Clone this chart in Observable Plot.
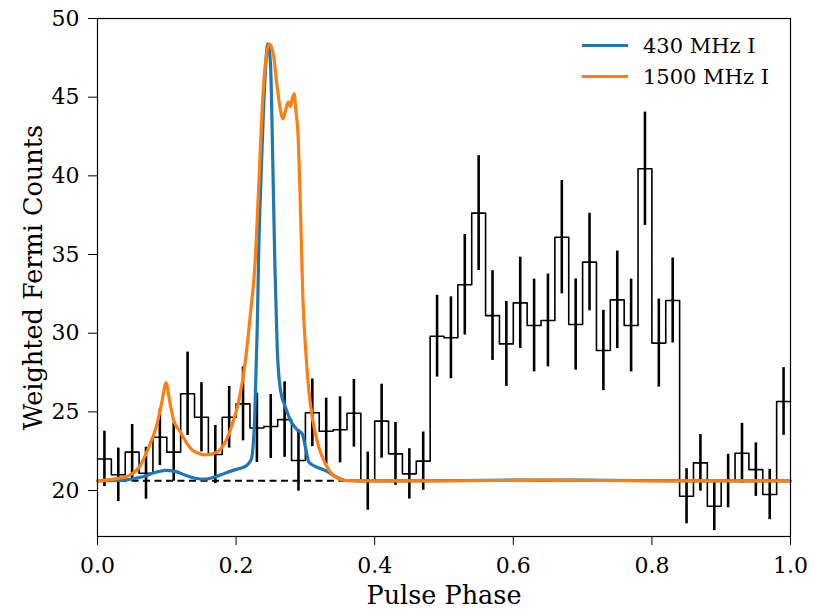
<!DOCTYPE html>
<html><head><meta charset="utf-8">
<script src="https://cdn.jsdelivr.net/npm/d3@7"></script>
<script src="https://cdn.jsdelivr.net/npm/@observablehq/plot@0.6"></script>
<style>
body{margin:0;background:#fff;}
#wrap{position:relative;width:814px;height:610px;}
#legend{position:absolute;left:582px;top:30px;font-family:"DejaVu Serif";font-size:21px;color:#000;}
.item{display:flex;align-items:center;height:31px;}
.sw{width:46px;height:3.5px;margin-right:15px;}
</style></head><body>
<div id="wrap"><div id="legend"></div></div>
<script>
// ---------- data ----------
const binWidth = 0.02;
const binStart = [0.00,0.02,0.04,0.06,0.08,0.10,0.12,0.14,0.16,0.18,
                  0.20,0.22,0.24,0.26,0.28,0.30,0.32,0.34,0.36,0.38,
                  0.40,0.42,0.44,0.46,0.48,0.50,0.52,0.54,0.56,0.58,
                  0.60,0.62,0.64,0.66,0.68,0.70,0.72,0.74,0.76,0.78,
                  0.80,0.82,0.84,0.86,0.88,0.90,0.92,0.94,0.96,0.98];
const counts = [22.01,21.00,22.44,21.10,23.39,22.44,26.15,24.66,22.29,24.66,
                25.51,23.98,24.07,24.51,21.91,24.94,23.77,23.86,24.91,20.60,
                24.41,22.33,21.06,21.87,29.81,29.71,33.08,37.63,31.12,29.32,
                31.93,30.49,30.81,36.10,30.55,34.52,28.90,32.12,30.49,40.45,
                29.37,32.08,19.64,21.76,19.00,20.60,22.37,21.33,19.75,25.66];
const errors = [1.76,1.70,1.76,1.65,1.80,1.85,2.65,2.20,1.85,1.96,
                2.35,2.20,2.03,2.40,1.95,2.15,2.10,2.10,2.15,1.85,
                2.35,2.00,1.60,1.85,2.60,2.60,3.20,3.65,2.85,2.70,
                2.90,2.95,2.95,3.60,2.90,3.10,2.55,3.10,2.95,3.60,
                2.80,2.70,1.75,1.80,1.55,1.70,1.90,1.70,1.60,2.15];
const baseline = 20.62;
const phaseRange = [0, 1];

const blueX = [0.000,0.030,0.045,0.065,0.083,0.098,0.112,0.127,0.141,0.156,0.170,0.185,0.199,0.214,0.222,
               0.227,0.2304,0.2328,0.2367,0.2415,0.2458,0.2496,0.253,0.2559,0.2593,0.2641,0.2713,0.2785,
               0.2881,0.2954,0.3001,0.305,0.3146,0.329,0.3434,0.3579,0.375,0.45,0.60,0.70,0.85,1.00];
const blueY = [20.62,20.64,20.70,20.88,21.15,21.28,21.22,20.97,20.78,20.72,20.88,21.12,21.33,21.55,22.00,
               24.87,30.17,35.46,40.77,46.06,48.39,47.12,40.77,34.41,29.11,26.36,25.29,24.45,
               23.86,23.60,22.75,21.80,21.53,21.27,20.89,20.64,20.62,20.62,20.66,20.66,20.62,20.62];

const orangeX = [0.000,0.026,0.045,0.060,0.074,0.086,0.0933,0.099,0.1039,0.110,0.1198,0.1294,0.1414,0.1558,
                 0.1703,0.1847,0.1943,0.2039,0.2136,0.2208,0.227,0.2328,0.2386,0.2424,0.2482,0.2544,0.2593,
                 0.2641,0.2674,0.2713,0.2751,0.2785,0.2809,0.2838,0.2867,0.289,0.292,0.2963,0.3001,0.305,
                 0.3107,0.3194,0.329,0.3434,0.3579,0.375,0.50,0.65,0.80,1.00];
const orangeY = [20.62,20.74,20.95,21.48,22.75,24.24,25.72,26.85,25.72,24.45,23.71,22.97,22.44,22.27,
                 22.40,23.10,24.20,25.70,28.30,31.30,34.20,39.50,45.00,47.20,48.39,47.54,45.63,
                 44.15,43.62,44.15,44.68,44.40,44.90,45.21,43.94,42.90,39.30,32.29,29.11,26.36,
                 24.45,22.75,21.69,20.85,20.64,20.62,20.62,20.66,20.62,20.62];

const xTicks = [0.0,0.2,0.4,0.6,0.8,1.0];
const yTicks = [20,25,30,35,40,45,50];
const yDomain = [17.08, 50];
const seriesNames = ["430 MHz I","1500 MHz I"];
const seriesColors = ["#1f77b4","#ff7f0e"];
const xLabel = "Pulse Phase";
const yLabel = "Weighted Fermi Counts";

// ---------- derived tables ----------
const bins = binStart.map((s,i)=>({x0:s, x1:s+binWidth, xc:s+binWidth/2, y:counts[i], e:errors[i]}));
const step = bins.map(b=>({x:b.x0,y:b.y})).concat([{x:bins[bins.length-1].x1, y:bins[bins.length-1].y}]);
const blue = blueX.map((x,i)=>({x, y:blueY[i]}));
const orange = orangeX.map((x,i)=>({x, y:orangeY[i]}));

const font = "DejaVu Serif";
const chart = Plot.plot({
  width: 814, height: 610,
  marginLeft: 97, marginRight: 24, marginTop: 18, marginBottom: 74,
  style: {fontFamily: font, fontSize: "22px", color: "#000", background: "#fff"},
  x: {domain: phaseRange},
  y: {domain: yDomain},
  marks: [
    Plot.line(step, {x:"x", y:"y", curve:"step-after", stroke:"#000", strokeWidth:1.6}),
    Plot.ruleX(bins, {x:"xc", y1:d=>d.y-d.e, y2:d=>d.y+d.e, stroke:"#000", strokeWidth:2.6}),
    Plot.ruleY([baseline], {x1:phaseRange[0], x2:phaseRange[1], stroke:"#000", strokeWidth:2, strokeDasharray:"7,4.5"}),
    Plot.line(blue, {x:"x", y:"y", curve:"monotone-x", stroke:seriesColors[0], strokeWidth:3.2}),
    Plot.line(orange, {x:"x", y:"y", curve:"monotone-x", stroke:seriesColors[1], strokeWidth:3.2}),
    Plot.frame({stroke:"#000", strokeWidth:1.2}),
    Plot.axisX({ticks:xTicks, tickFormat:d3.format(".1f"), tickSize:9, tickPadding:12, label:null, fontSize:22}),
    Plot.axisY({ticks:yTicks, tickFormat:d3.format("d"), tickSize:9, tickPadding:9, label:null, fontSize:22}),
    Plot.text([xLabel], {frameAnchor:"bottom", dy:59, textAnchor:"middle", lineAnchor:"middle", text:d=>d, fontSize:25.5, fontFamily:font}),
    Plot.text([yLabel], {frameAnchor:"left", dx:-64, rotate:-90, textAnchor:"middle", lineAnchor:"middle", text:d=>d, fontSize:25.5, fontFamily:font})
  ]
});
const wrap = document.getElementById("wrap");
wrap.insertBefore(chart, wrap.firstChild);
const legend = document.getElementById("legend");
seriesNames.forEach((n,i)=>{
  const it = document.createElement("div"); it.className="item";
  const sw = document.createElement("div"); sw.className="sw"; sw.style.background=seriesColors[i];
  const t = document.createElement("span"); t.textContent=n;
  it.appendChild(sw); it.appendChild(t); legend.appendChild(it);
});
</script>
</body></html>
